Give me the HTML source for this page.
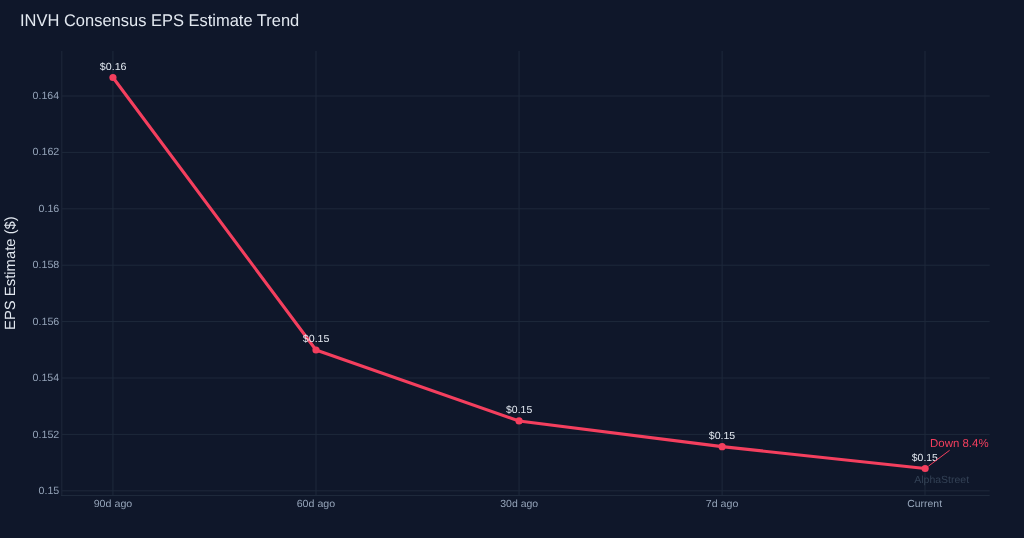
<!DOCTYPE html>
<html><head><meta charset="utf-8"><title>INVH Consensus EPS Estimate Trend</title><style>html,body{margin:0;padding:0;background:#0f172a;width:1024px;height:538px;overflow:hidden}svg{display:block;will-change:transform}text{font-family:"Liberation Sans",sans-serif;text-rendering:geometricPrecision}</style></head><body>
<svg width="1024" height="538" viewBox="0 0 1024 538" font-family="'Liberation Sans', sans-serif">
<rect x="0" y="0" width="1024" height="538" fill="#0f172a"/>
<g stroke="#1e293b" stroke-width="1" fill="none"><line x1="62" y1="96.00" x2="989.7" y2="96.00"/><line x1="62" y1="152.40" x2="989.7" y2="152.40"/><line x1="62" y1="208.80" x2="989.7" y2="208.80"/><line x1="62" y1="265.20" x2="989.7" y2="265.20"/><line x1="62" y1="321.60" x2="989.7" y2="321.60"/><line x1="62" y1="378.00" x2="989.7" y2="378.00"/><line x1="62" y1="434.40" x2="989.7" y2="434.40"/><line x1="62" y1="490.80" x2="989.7" y2="490.80"/><line x1="112.95" y1="51" x2="112.95" y2="495"/><line x1="316.00" y1="51" x2="316.00" y2="495"/><line x1="519.05" y1="51" x2="519.05" y2="495"/><line x1="722.10" y1="51" x2="722.10" y2="495"/><line x1="925.00" y1="51" x2="925.00" y2="495"/></g>
<g stroke="#1e293b" stroke-width="1" fill="none"><line x1="61.8" y1="51" x2="61.8" y2="496"/><line x1="61" y1="495.5" x2="989.7" y2="495.5"/></g>
<polyline points="112.95,77.5 316.0,350.0 519.05,420.95 722.1,446.65 925.15,468.5" fill="none" stroke="#f43f5e" stroke-width="3.1" stroke-linejoin="round"/>
<g fill="#f43f5e"><circle cx="112.95" cy="77.5" r="3.6"/><circle cx="316.0" cy="350.0" r="3.6"/><circle cx="519.05" cy="420.95" r="3.6"/><circle cx="722.1" cy="446.65" r="3.6"/><circle cx="925.15" cy="468.5" r="3.6"/></g>
<g transform="matrix(0.97344,0,0,1,-77.304,0)"><text x="100" y="25.800" font-size="16.933" fill="#e2e8f0">INVH Consensus EPS Estimate Trend</text></g>
<g transform="matrix(1.01359,0,0,1,-68.813,0)"><text x="100" y="98.950" font-size="10.465" fill="#94a3b8">0.164</text></g>
<g transform="matrix(1.02353,0,0,1,-69.809,0)"><text x="100" y="155.450" font-size="10.465" fill="#94a3b8">0.162</text></g>
<g transform="matrix(1.01772,0,0,1,-63.227,0)"><text x="100" y="211.950" font-size="10.465" fill="#94a3b8">0.16</text></g>
<g transform="matrix(1.02353,0,0,1,-69.809,0)"><text x="100" y="268.450" font-size="10.465" fill="#94a3b8">0.158</text></g>
<g transform="matrix(1.02353,0,0,1,-69.809,0)"><text x="100" y="324.950" font-size="10.465" fill="#94a3b8">0.156</text></g>
<g transform="matrix(1.01359,0,0,1,-68.813,0)"><text x="100" y="381.450" font-size="10.465" fill="#94a3b8">0.154</text></g>
<g transform="matrix(1.02353,0,0,1,-69.809,0)"><text x="100" y="437.950" font-size="10.465" fill="#94a3b8">0.152</text></g>
<g transform="matrix(1.01772,0,0,1,-63.227,0)"><text x="100" y="494.450" font-size="10.465" fill="#94a3b8">0.15</text></g>
<g transform="matrix(1.04276,0,0,1,-10.597,0)"><text x="100" y="507.250" font-size="10.247" fill="#94a3b8">90d ago</text></g>
<g transform="matrix(1.04000,0,0,1,192.680,0)"><text x="100" y="507.250" font-size="10.247" fill="#94a3b8">60d ago</text></g>
<g transform="matrix(1.02740,0,0,1,397.453,0)"><text x="100" y="507.250" font-size="10.247" fill="#94a3b8">30d ago</text></g>
<g transform="matrix(1.03934,0,0,1,601.846,0)"><text x="100" y="507.250" font-size="10.247" fill="#94a3b8">7d ago</text></g>
<g transform="matrix(1.01926,0,0,1,805.364,0)"><text x="100" y="507.250" font-size="10.247" fill="#94a3b8">Current</text></g>
<g transform="matrix(1.03529,0,0,1,-3.729,0)"><text x="100" y="69.870" font-size="10.320" fill="#e2e8f0">$0.16</text></g>
<g transform="matrix(1.03137,0,0,1,199.663,0)"><text x="100" y="342.370" font-size="10.320" fill="#e2e8f0">$0.15</text></g>
<g transform="matrix(1.01569,0,0,1,404.431,0)"><text x="100" y="413.320" font-size="10.320" fill="#e2e8f0">$0.15</text></g>
<g transform="matrix(1.02353,0,0,1,606.447,0)"><text x="100" y="439.020" font-size="10.320" fill="#e2e8f0">$0.15</text></g>
<g transform="matrix(1.01176,0,0,1,810.624,0)"><text x="100" y="460.870" font-size="10.320" fill="#e2e8f0">$0.15</text></g>
<g transform="matrix(0.99138,0,0,1,830.919,0)"><text x="100" y="446.900" font-size="11.555" fill="#f43f5e">Down 8.4%</text></g>
<g transform="matrix(1.02723,0,0,1,811.477,0)"><text x="100" y="482.500" font-size="10.247" fill="#334155">AlphaStreet</text></g>
<g transform="matrix(1,0,0,1.00494,0,28.422)"><text transform="translate(15.300,300) rotate(-90)" x="0" y="0" font-size="14.753" fill="#e2e8f0">EPS Estimate ($)</text></g>
<line x1="928.4" y1="466.2" x2="949.6" y2="450.3" stroke="#f43f5e" stroke-width="1.0"/>
</svg>
</body></html>
